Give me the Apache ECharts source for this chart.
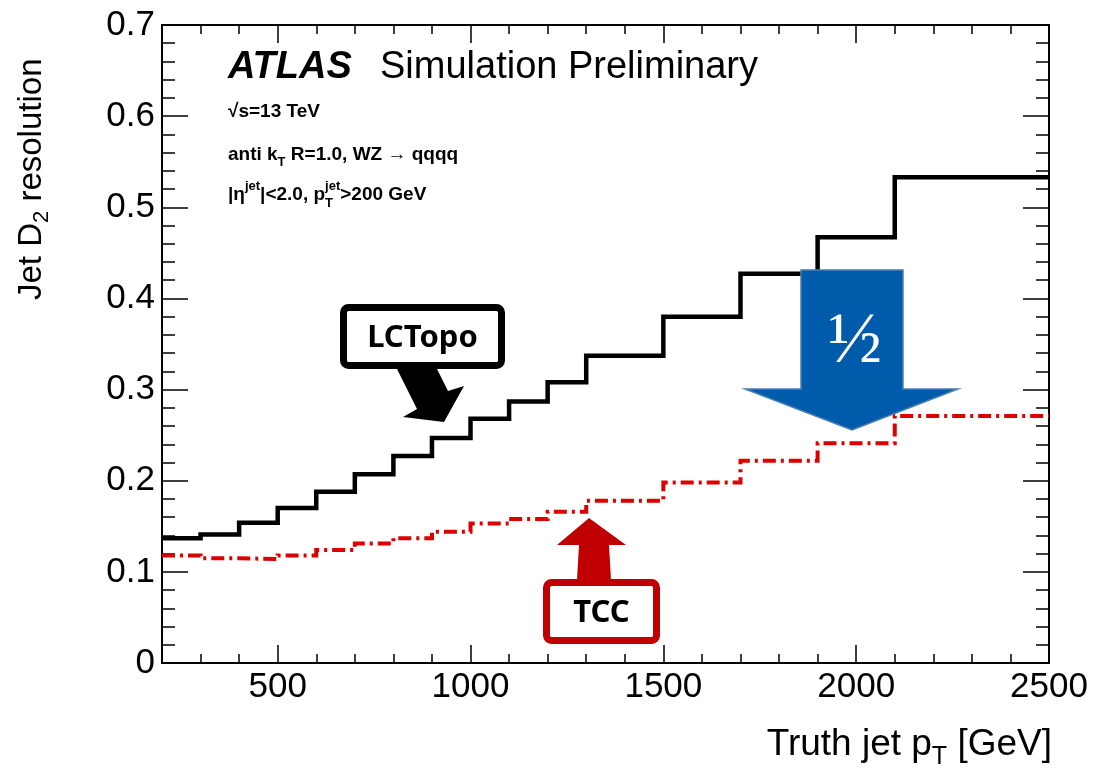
<!DOCTYPE html>
<html>
<head>
<meta charset="utf-8">
<script src="https://cdn.jsdelivr.net/npm/echarts@6/dist/echarts.min.js"></script>
<style>
  html, body { margin: 0; padding: 0; background: #fff; }
  #chart { width: 1105px; height: 776px; }
</style>
</head>
<body>
<div id="chart"></div>
<script>
// Jet D2 resolution vs truth jet pT, LCTopo vs TCC large-R jets
const PT_EDGES = [200, 300, 400, 500, 600, 700, 800, 900, 1000, 1100, 1200, 1300, 1500, 1700, 1900, 2100, 2500];
const LCTOPO_RES = [0.137, 0.141, 0.154, 0.170, 0.188, 0.207, 0.227, 0.247, 0.268, 0.287, 0.308, 0.337, 0.380, 0.427, 0.467, 0.533];
const TCC_RES = [0.118, 0.115, 0.114, 0.118, 0.124, 0.131, 0.137, 0.144, 0.153, 0.158, 0.166, 0.178, 0.198, 0.222, 0.241, 0.271];
const X_MAJOR_TICKS = [500, 1000, 1500, 2000, 2500];
const Y_MAJOR_TICKS = [0, 0.1, 0.2, 0.3, 0.4, 0.5, 0.6, 0.7];

const SANS = '"Liberation Sans", Arial, Helvetica, sans-serif';
const CALLOUT = '"Noto Sans", "Open Sans", "Liberation Sans", sans-serif';
const SERIF = '"Liberation Serif", "DejaVu Serif", serif';

// histogram bins -> step polyline (last bin closed at the upper edge)
function stepPoints(edges, vals) {
  const pts = vals.map((v, i) => [edges[i], v]);
  pts.push([edges[edges.length - 1], vals[vals.length - 1]]);
  return pts;
}

// lay out a run of text pieces (with sub/superscripts) left to right
const measureCtx = document.createElement('canvas').getContext('2d');
function textRow(parts) {
  let x = 0;
  const children = [];
  parts.forEach(p => {
    const family = p.family || SANS;
    const weight = p.weight || 'normal';
    const fstyle = p.style || 'normal';
    measureCtx.font = fstyle + ' ' + weight + ' ' + p.size + 'px ' + family;
    const w = measureCtx.measureText(p.text).width;
    children.push({
      type: 'text', x: x, y: p.dy || 0, silent: true,
      style: {
        text: p.text, fontSize: p.size, fontFamily: family, fontWeight: weight,
        fontStyle: fstyle, fill: p.color || '#000', align: 'left', verticalAlign: 'middle'
      }
    });
    if (!p.stay) x += w;
  });
  return { children: children, width: x };
}

const tickStyle = { color: '#000', width: 1.5 };
const axisLineStyle = { color: '#000', width: 2 };

function xAxisDef(pos, major) {
  const a = {
    type: 'value', min: 200, max: 2500, position: pos,
    splitLine: { show: false },
    axisLine: { show: !major, onZero: false, lineStyle: axisLineStyle },
    axisLabel: { show: false },
    axisTick: { show: true, inside: true, length: major ? 18 : 9, lineStyle: tickStyle }
  };
  if (major) {
    a.axisTick.customValues = X_MAJOR_TICKS;
  } else {
    a.interval = 100;
  }
  if (major && pos === 'bottom') {
    a.axisLabel = {
      show: true, customValues: X_MAJOR_TICKS, fontSize: 35, fontFamily: SANS,
      color: '#000', margin: 7, showMinLabel: true, showMaxLabel: true,
      formatter: v => String(v)
    };
  }
  return a;
}

function yAxisDef(pos) {
  return {
    type: 'value', min: 0, max: 0.7, interval: 0.1, position: pos,
    splitLine: { show: false },
    axisLine: { show: true, onZero: false, lineStyle: axisLineStyle },
    axisTick: { show: true, inside: true, length: 26, lineStyle: tickStyle },
    minorTick: { show: true, splitNumber: 5, length: 13, lineStyle: tickStyle },
    axisLabel: pos === 'left' ? {
      show: true, customValues: Y_MAJOR_TICKS, fontSize: 35, fontFamily: SANS,
      color: '#000', margin: 7, showMinLabel: true, showMaxLabel: true,
      formatter: v => String(v)
    } : { show: false }
  };
}

const chart = echarts.init(document.getElementById('chart'), null, { renderer: 'canvas' });

// header and axis titles
const atlasRow = textRow([{ text: 'ATLAS', size: 38, weight: 'bold', style: 'italic' }]);
const simRow = textRow([{ text: 'Simulation Preliminary', size: 38 }]);
const energyRow = textRow([{ text: '\u221As=13 TeV', size: 19, weight: 'bold' }]);
const algoRow = textRow([
  { text: 'anti k', size: 19, weight: 'bold' },
  { text: 'T', size: 13, dy: 7, weight: 'bold' },
  { text: ' R=1.0, WZ \u2192 qqqq', size: 19, weight: 'bold' }
]);
const cutRow = textRow([
  { text: '|\u03B7', size: 19, weight: 'bold' },
  { text: 'jet', size: 13, dy: -9, weight: 'bold' },
  { text: '|<2.0, p', size: 19, weight: 'bold' },
  { text: 'T', size: 13, dy: 8, stay: true, weight: 'bold' },
  { text: 'jet', size: 13, dy: -9, weight: 'bold' },
  { text: '>200 GeV', size: 19, weight: 'bold' }
]);
const yTitle = textRow([
  { text: 'Jet D', size: 33 },
  { text: '2', size: 22, dy: 10 },
  { text: ' resolution', size: 33 }
]);
const xTitle = textRow([
  { text: 'Truth jet p', size: 37 },
  { text: 'T', size: 25, dy: 12 },
  { text: ' [GeV]', size: 37 }
]);

const graphics = [
  { type: 'group', x: 228, y: 68, children: atlasRow.children },
  { type: 'group', x: 380, y: 68, children: simRow.children },
  { type: 'group', x: 228, y: 112, children: energyRow.children },
  { type: 'group', x: 228, y: 155, children: algoRow.children },
  { type: 'group', x: 228, y: 195, children: cutRow.children },
  { type: 'group', x: 32, y: 300, rotation: Math.PI / 2, children: yTitle.children },
  { type: 'group', x: 1052 - xTitle.width, y: 745, children: xTitle.children },

  // LCTopo callout
  { type: 'polygon', z: 10, silent: true,
    shape: { points: [[397, 369], [437, 369], [448, 391], [464, 386], [444, 422], [403, 417], [417, 409]] },
    style: { fill: '#000' } },
  { type: 'rect', z: 11, silent: true,
    shape: { x: 343.5, y: 307.5, width: 158, height: 58, r: 5 },
    style: { fill: '#fff', stroke: '#000', lineWidth: 7 } },
  { type: 'text', z: 12, silent: true, x: 422.5, y: 338,
    style: { text: 'LCTopo', fontSize: 31, fontWeight: 'bold', fontFamily: CALLOUT, fill: '#000', align: 'center', verticalAlign: 'middle' } },

  // TCC callout
  { type: 'polygon', z: 10, silent: true,
    shape: { points: [[577, 580], [611, 580], [609, 545], [626, 545], [589, 518], [557, 545], [579, 545]] },
    style: { fill: '#C00000' } },
  { type: 'rect', z: 11, silent: true,
    shape: { x: 546.5, y: 582.5, width: 110, height: 58, r: 5 },
    style: { fill: '#fff', stroke: '#C00000', lineWidth: 7 } },
  { type: 'text', z: 12, silent: true, x: 601.5, y: 613,
    style: { text: 'TCC', fontSize: 31, fontWeight: 'bold', fontFamily: CALLOUT, fill: '#000', align: 'center', verticalAlign: 'middle' } },

  // halving arrow
  { type: 'polygon', z: 10, silent: true,
    shape: { points: [[801, 270], [903, 270], [903, 389], [958, 389], [852, 430], [745, 389], [801, 389]] },
    style: { fill: '#005BAA', stroke: '#4A7EB3', lineWidth: 1.5 } },
  { type: 'text', z: 12, silent: true, x: 855, y: 343,
    style: { text: '\u00BD', fontSize: 72, fontFamily: SERIF, fill: '#fff', align: 'center', verticalAlign: 'middle' } }
];

chart.setOption({
  animation: false,
  backgroundColor: '#fff',
  grid: { left: 162, right: 56, top: 25, bottom: 113, containLabel: false, outerBoundsMode: 'none' },
  xAxis: [xAxisDef('bottom', false), xAxisDef('bottom', true), xAxisDef('top', false), xAxisDef('top', true)],
  yAxis: [yAxisDef('left'), yAxisDef('right')],
  series: [
    {
      name: 'LCTopo', type: 'line', xAxisIndex: 0, yAxisIndex: 0, step: 'end',
      data: stepPoints(PT_EDGES, LCTOPO_RES),
      symbol: 'none', showSymbol: false, z: 3,
      lineStyle: { color: '#000', width: 4.5, join: 'miter', cap: 'butt' }
    },
    {
      name: 'TCC', type: 'line', xAxisIndex: 0, yAxisIndex: 0, step: 'end',
      data: stepPoints(PT_EDGES, TCC_RES),
      symbol: 'none', showSymbol: false, z: 4,
      lineStyle: { color: '#DD0000', width: 4, type: [13, 5, 3, 5], join: 'miter', cap: 'butt' }
    }
  ],
  graphic: graphics
});
</script>
</body>
</html>
